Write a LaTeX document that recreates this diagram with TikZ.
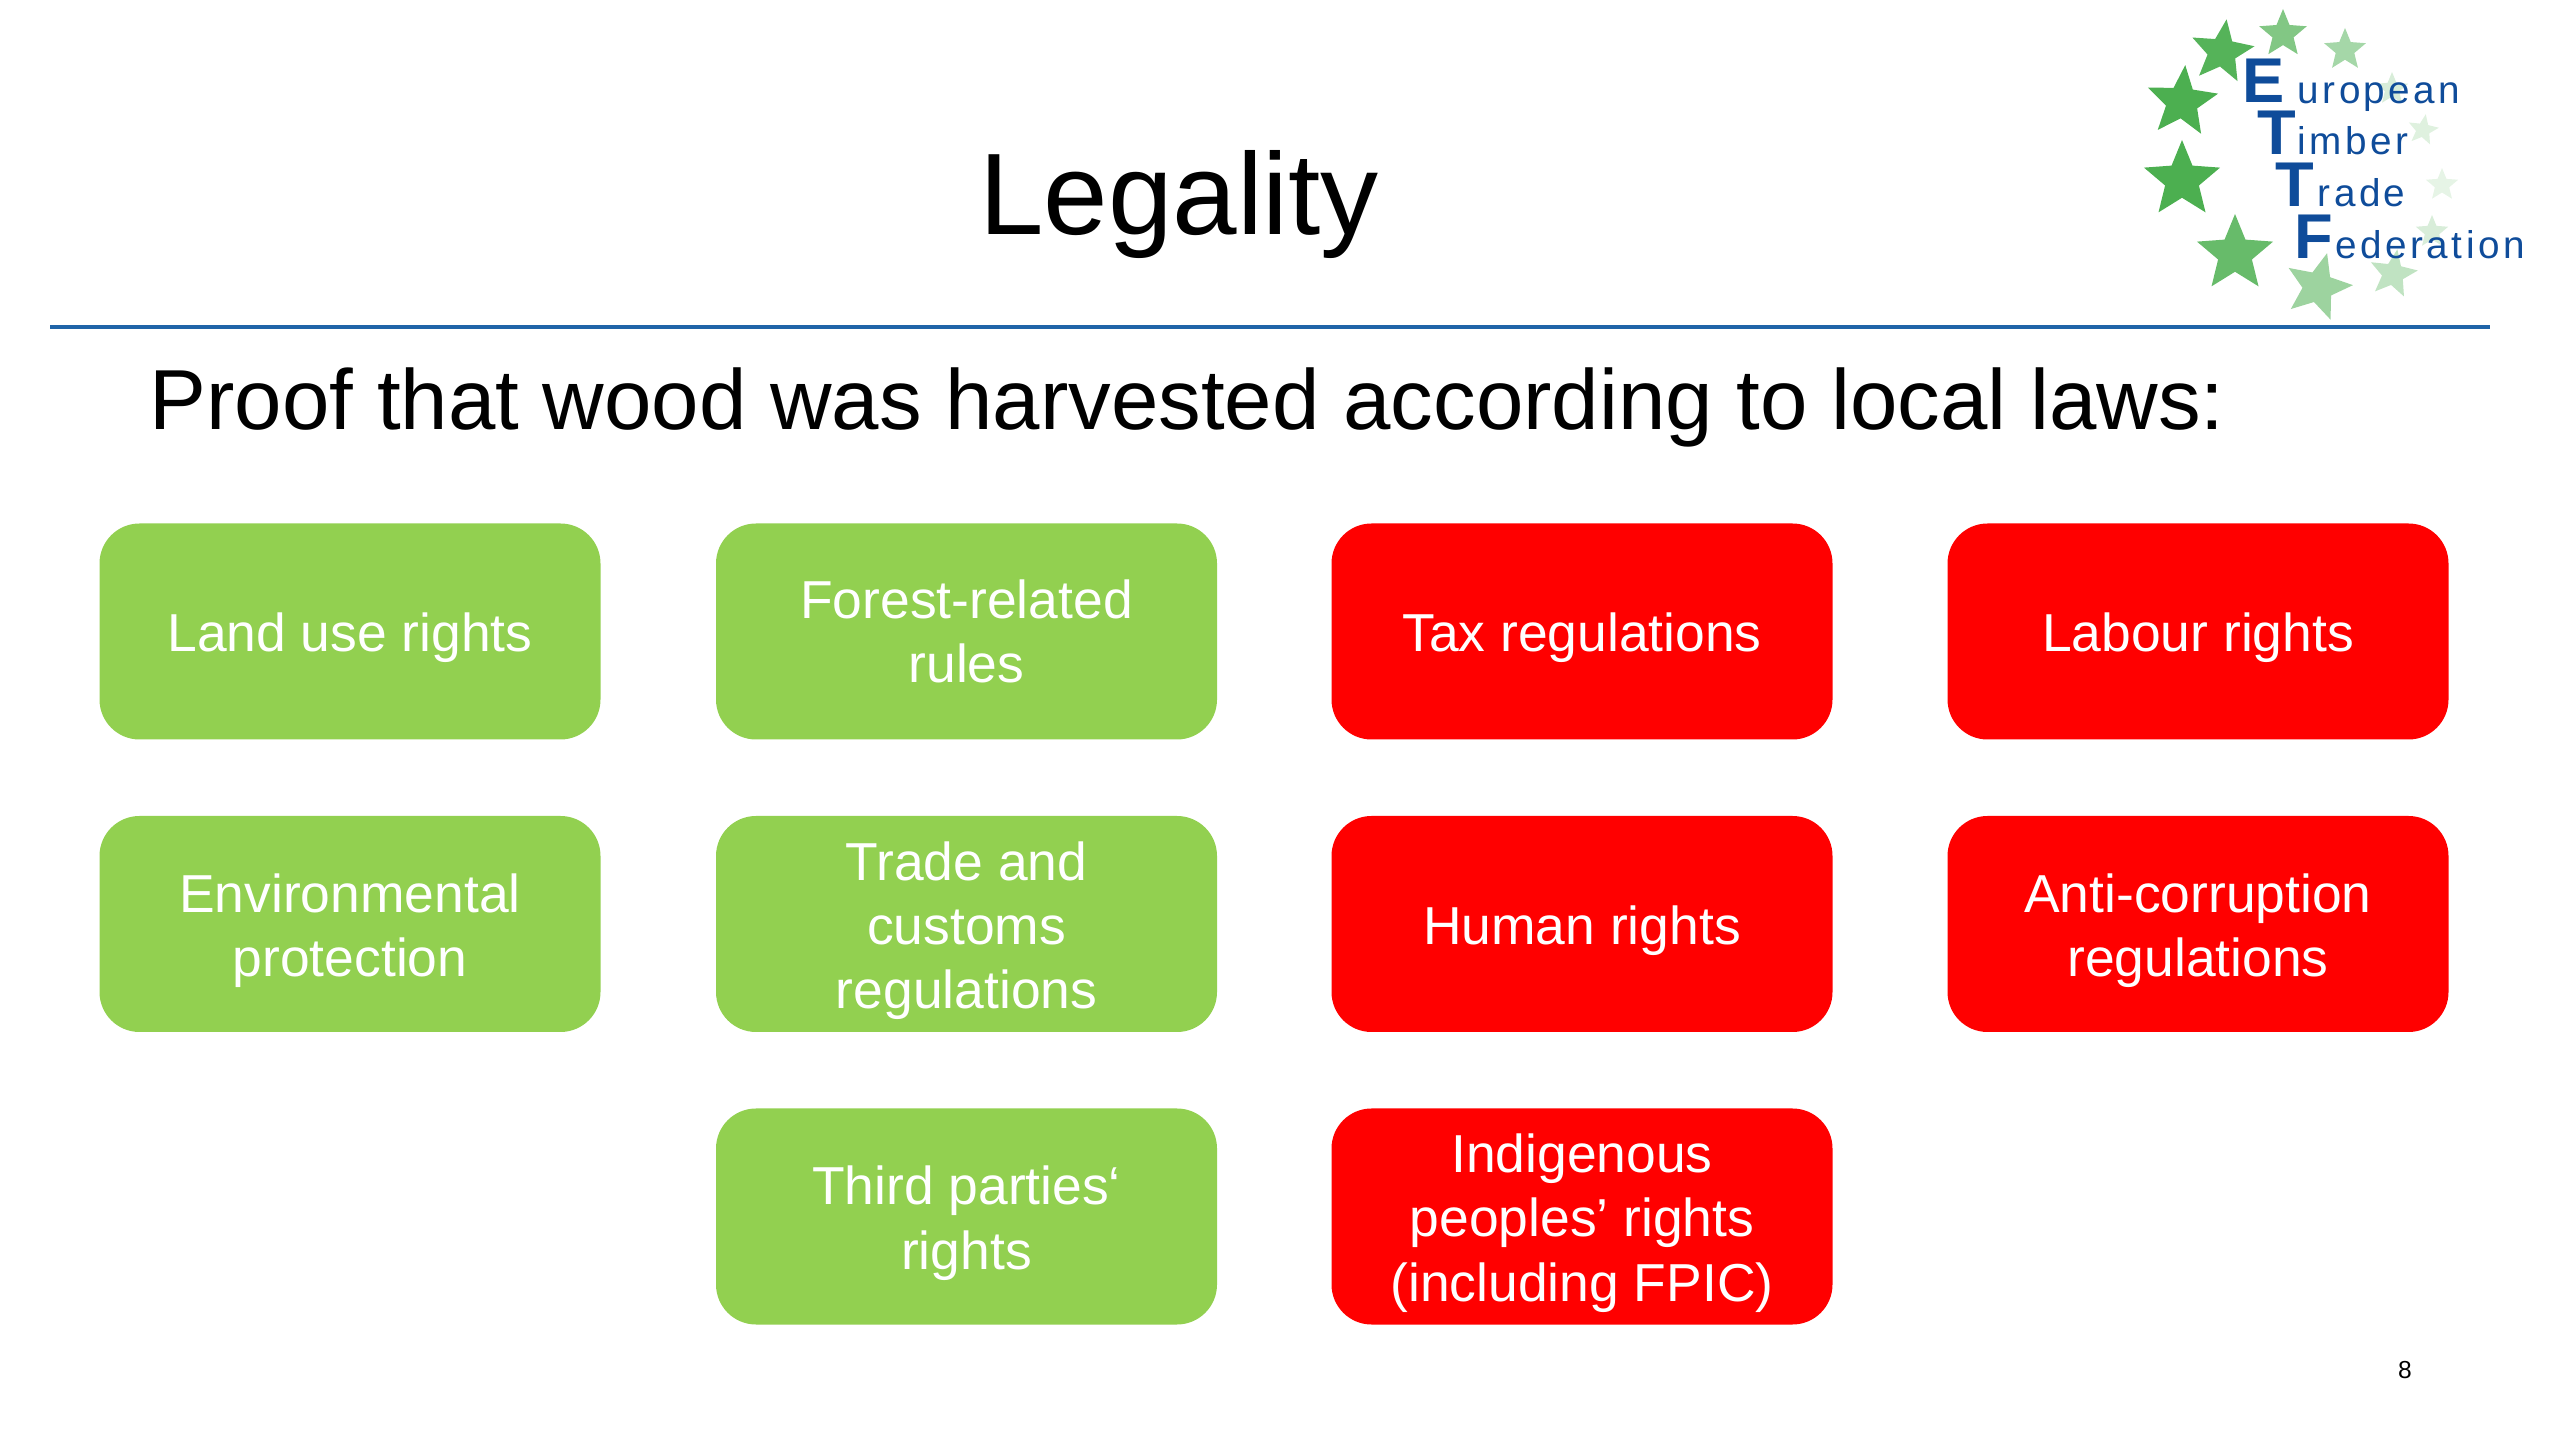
\documentclass[tikz,border=0pt]{standalone}
\usepackage{fontspec}
\setmainfont{Liberation Sans}
\usetikzlibrary{shapes.geometric}
\definecolor{rulecolor}{HTML}{1F64A8}
\definecolor{boxgreen}{HTML}{92D050}
\definecolor{boxred}{HTML}{FF0000}
\definecolor{starcolor}{HTML}{4CAF50}
\definecolor{logoblue}{HTML}{0F4C9A}
\newcommand{\topgap}{\rule{0pt}{0.52cm}}
\tikzset{
  rulebox/.style={rounded corners=0.4cm,minimum width=5.01cm,minimum height=2.16cm,inner sep=0pt,align=center,text=white,font=\fontsize{15.2}{18.3}\selectfont},
  legalbox/.style={rulebox,fill=boxgreen},
  socialbox/.style={rulebox,fill=boxred},
  logostar/.style={star,star points=5,star point ratio=2.25,inner sep=0pt,draw=none},
  bigletter/.style={anchor=base west,inner sep=0pt,text=logoblue,font=\fontsize{18}{18}\selectfont\bfseries},
  smallword/.style={anchor=base west,inner sep=0pt,text=logoblue,font=\fontsize{11}{11}\selectfont\addfontfeature{LetterSpace=9}}
}
\begin{document}
\begin{tikzpicture}
\useasboundingbox (0,0) rectangle (25.6,14.4);
% heading
\node[font=\fontsize{33}{36}\selectfont] (title) at (11.79,12.35) {Legality};
\coordinate (ruleL) at (0.5,11.13);
\coordinate (ruleR) at (24.9,11.13);
\draw[rulecolor,line width=0.04cm] (ruleL) -- (ruleR);
\node[anchor=base west,inner sep=0pt,font=\fontsize{24.25}{28}\selectfont] (proof) at (1.49,10.10) {Proof that wood was harvested according to local laws:};
% first row
\node[legalbox] (land) at (3.50,8.085) {\topgap Land use rights};
\node[legalbox] (forest) at (9.665,8.085) {Forest-related\\rules};
\node[socialbox] (tax) at (15.82,8.085) {\topgap Tax regulations};
\node[socialbox] (labour) at (21.98,8.085) {\topgap Labour rights};
% second row
\node[legalbox] (environment) at (3.50,5.16) {\topgap Environmental\\protection};
\node[legalbox] (customs) at (9.665,5.16) {\topgap Trade and\\customs\\regulations};
\node[socialbox] (human) at (15.82,5.16) {\topgap Human rights};
\node[socialbox] (corruption) at (21.98,5.16) {\topgap Anti-corruption\\regulations};
% third row
\node[legalbox] (parties) at (9.665,2.235) {\topgap Third parties‘\\rights};
\node[socialbox] (indigenous) at (15.82,2.235) {\topgap Indigenous\\peoples’ rights\\(including FPIC)};
\node[font=\fontsize{7}{8}\selectfont,inner sep=0pt] (page) at (24.05,0.70) {8};
% logo
\foreach \i/\x/\y/\r/\a/\c in {1/22.22/13.88/0.33/-8/95,2/22.83/14.06/0.25/0/70,3/23.45/13.90/0.22/0/50,4/23.92/13.51/0.17/0/22,5/24.23/13.10/0.16/-10/18,6/24.42/12.55/0.17/0/14,7/24.32/12.08/0.17/0/22,8/23.93/11.66/0.25/-10/35,9/23.18/11.53/0.35/-15/55,10/22.35/11.86/0.40/0/85,11/21.82/12.60/0.40/0/100,12/21.82/13.38/0.37/-5/100}
  \node[logostar,fill=starcolor!\c,minimum size=2*\r cm,rotate=\a] (star\i) at (\x,\y) {};
\node[bigletter] (bigE) at (22.42,13.37) {E};
\node[bigletter] (bigT) at (22.57,12.85) {T};
\node[bigletter] (bigTT) at (22.75,12.33) {T};
\node[bigletter] (bigF) at (22.94,11.81) {F};
\node[smallword] (european) at (22.97,13.36) {uropean};
\node[smallword] (timber) at (22.97,12.85) {imber};
\node[smallword] (trade) at (23.17,12.33) {rade};
\node[smallword] (federation) at (23.35,11.81) {ederation};
\end{tikzpicture}
\end{document}
